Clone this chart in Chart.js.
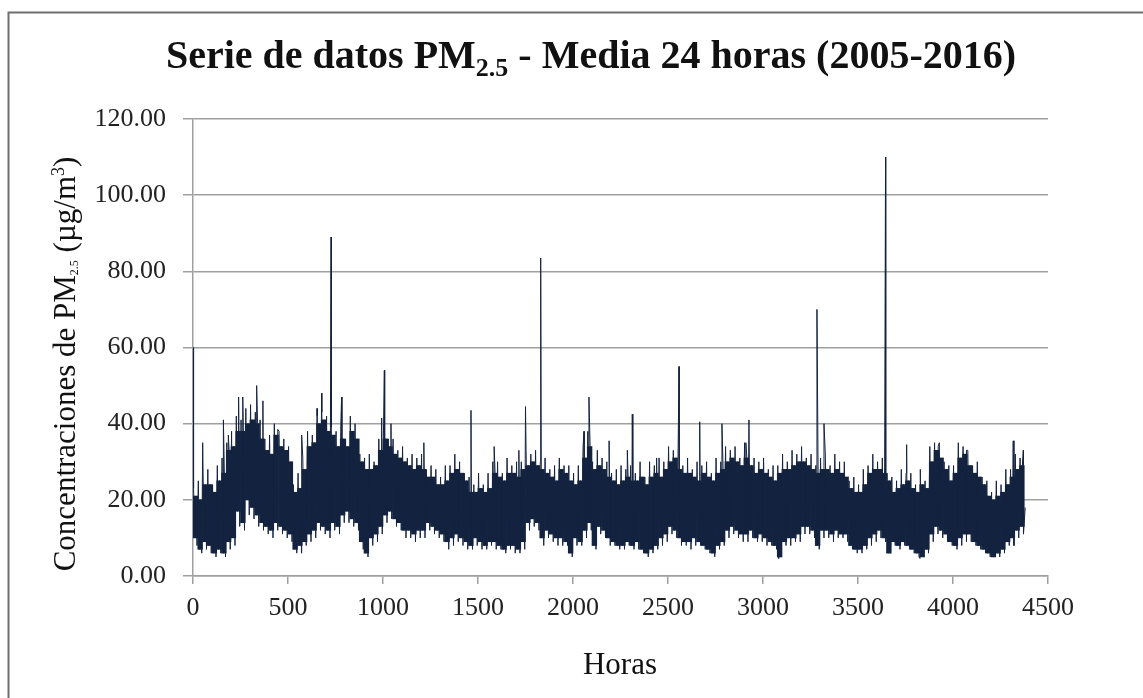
<!DOCTYPE html>
<html>
<head>
<meta charset="utf-8">
<script src="https://cdn.jsdelivr.net/npm/chart.js"></script>
<style>
  html, body { margin: 0; padding: 0; background: #fff; }
  #wrap { width: 1143px; height: 698px; }
</style>
</head>
<body>
<div id="wrap"><canvas id="pmChart" width="1143" height="698"></canvas></div>
<script>
// 24 h PM2.5 series in 25-hour bins
const binHours = 25;
// upper / lower edge of the dark core
const bandHigh = [
  21,20,24,24,22,25,27,33,34,38, 38,40,41,40,36,33,32,37,34,33,
  30,22,23,28,34,35,40,41,38,37, 34,36,34,38,36, 30,28,28,29,33,
  36,34,32,31,30,29,28,29,28,26, 26,24,24,25,27,28,27,25,22,22,
  23,22,23,27,26,25,27,27,26,28, 29,30,29,28,27,26,25,28,27,25,
  24,25,31,34,28,29,28,26,25,24, 25,26,25,25,26,24,26,27,26,28,
  30,31,28,27,27,26,25,27,26,25, 27,28,30,31,30,29,31,29,27,28,
  27,26,25,27,28,28,29,30,30,29, 28,27,28,28,27,28,27,26,23,22,
  22,24,27,28,28,27,25,22,23,24, 25,23,22,24,23,30,33,31,28,25,
  27,31,32,29,27,26,24,21,20,21, 22,24,26,28,29
];
const bandLow = [
  10,7,9,8,6,7,6,9,10,17, 14,20,18,16,14,13,12,14,13,12,
  11,7,8,9,11,12,14,13,12,14, 13,16,17,15,14, 9,6,10,11,13,
  16,17,15,14,12,12,11,12,12,14, 13,12,11,9,10,11,10,9,8,10,
  9,8,9,9,8,7,8,8,7,9, 14,15,14,10,12,11,10,10,9,6,
  10,9,12,14,8,13,12,10,9,8, 8,9,8,9,7,6,7,8,10,11,
  13,12,10,9,9,10,9,8,7,6, 8,9,12,13,12,11,11,12,10,11,
  10,9,8,5,9,10,10,11,13,13, 12,8,12,12,11,12,11,11,8,7,
  7,8,10,11,12,10,6,9,8,9, 8,7,6,5,7,11,13,12,11,9,
  8,10,11,11,9,8,7,6,5,6, 7,9,10,12,13
];
// thin strands above / below the core
const peakHigh = [
  23,25,27,28,24,29,31,35,38,42, 41,44,45,43,41,36,37,40,38,36,
  34,24,27,31,38,37,44,43,42,39, 38,40,36,42,40, 32,31,32,30,36,
  40,36,36,33,34,31,32,31,32,28, 29,28,26,29,29,32,30,27,26,24,
  27,24,27,30,30,27,31,29,30,30, 33,32,33,30,31,28,29,31,29,29,
  27,29,34,38,30,33,31,30,27,28, 29,28,29,27,30,26,30,29,31,30,
  34,33,32,29,31,28,30,29,30,27, 31,30,34,33,34,31,35,31,31,30,
  31,28,29,29,32,30,33,32,34,31, 32,29,31,32,29,32,30,30,25,26,
  24,28,29,32,30,31,27,26,25,28, 27,27,24,28,25,34,35,35,30,29,
  29,35,34,33,29,30,26,25,22,25, 24,28,28,32,31
];
const dipLow = [
  8,6,7,6,5,6,5,7,8,13, 12,16,15,13,12,11,10,12,11,10,
  9,6,6,8,9,10,12,11,10,12, 11,14,14,13,12, 7,5,8,9,11,
  14,15,13,12,10,10,9,10,10,12, 11,10,9,7,8,9,8,7,7,8,
  7,7,8,7,7,6,7,6,6,7, 12,13,12,8,10,9,8,8,8,5,
  8,8,10,12,7,11,10,8,8,7, 7,8,7,7,6,5,6,7,8,9,
  11,10,8,8,7,8,8,7,6,5, 7,8,10,11,10,9,9,10,9,9,
  8,8,7,5,8,8,9,9,11,11, 10,7,10,10,9,10,10,9,7,6,
  6,7,8,9,10,9,6,8,7,8, 7,6,5,5,6,9,11,10,9,8,
  7,8,9,9,8,7,6,5,5,5, 6,8,8,10,11
];
// isolated peaks / dips: [hour, value]
const spikes = [
  [0,60],[51,35],[160,41],[186,37],[240,47],[262,47],[335,50],[368,46],[446,38.5],
  [572,37],[654,42],[677,48],[727,89],[782,47],[993,41.5],[1007,54],[1042,40],
  [1215,35],[1463,43.5],[1585,34],[1715,33],[1750,44.5],[1830,83.5],[2058,38],
  [2084,47],[2190,35.5],[2286,33],[2312,42.5],[2440,31],[2558,55],[2667,40.5],
  [2784,40],[2910,35],[2926,41],[3081,4.6],[3284,70],[3321,40],[3645,110],
  [3756,34.5],[3826,4.6],[3922,34],[4071,33],[4317,35.5],[4370,33],[4380,18]
];
const xTicks = [0,500,1000,1500,2000,2500,3000,3500,4000,4500];
const yTicks = [0,20,40,60,80,100,120];

const series = [];
bandHigh.forEach((v, i) => {
  const h = i * binHours;
  series.push({ x: h + 3, y: peakHigh[i] });
  series.push({ x: h + 9, y: bandLow[i] });
  series.push({ x: h + 15, y: v });
  series.push({ x: h + 21, y: dipLow[i] });
});
spikes.forEach(s => series.push({ x: s[0], y: s[1] }));
series.sort((a, b) => a.x - b.x);

// the dense core of the band, one floating bar per bin
const band = bandHigh.map((v, i) => ({ x: i * binHours + binHours / 2, y: [bandLow[i], v] }));

const serif = "'Liberation Serif', 'Times New Roman', serif";
const navy = '#13233f';

// draws text made of [string, size, yShift] pieces, centred on 0
function drawPieces(ctx, pieces, weight) {
  let total = 0;
  pieces.forEach(p => {
    ctx.font = weight + ' ' + p[1] + 'px ' + serif;
    p.w = ctx.measureText(p[0]).width;
    total += p.w;
  });
  let x = -total / 2;
  pieces.forEach(p => {
    ctx.font = weight + ' ' + p[1] + 'px ' + serif;
    ctx.fillText(p[0], x, p[2]);
    x += p.w;
  });
}

const textPlugin = {
  id: 'texts',
  afterDraw(chart) {
    const ctx = chart.ctx;
    ctx.save();
    ctx.fillStyle = '#111';
    ctx.textAlign = 'left';
    ctx.textBaseline = 'alphabetic';

    // frame
    ctx.strokeStyle = '#6f6f6f';
    ctx.lineWidth = 2;
    ctx.beginPath();
    ctx.moveTo(8.5, 698);
    ctx.lineTo(8.5, 12.5);
    ctx.lineTo(1143, 12.5);
    ctx.stroke();

    // title
    ctx.save();
    ctx.translate(591, 68);
    drawPieces(ctx, [
      ['Serie de datos PM', 40, 0], ['2.5', 26, 8], [' - Media 24 horas (2005-2016)', 40, 0]
    ], 'bold');
    ctx.restore();

    // y title
    ctx.save();
    ctx.translate(75, 364);
    ctx.rotate(-Math.PI / 2);
    drawPieces(ctx, [
      ['Concentraciones de PM', 31, 0], ['2.5', 12, 3], [' (\u00b5g/m', 31, 0], ['3', 18, -11], [')', 31, 0]
    ], 'normal');
    ctx.restore();

    // x title
    ctx.save();
    ctx.translate(620, 674);
    drawPieces(ctx, [['Horas', 31, 0]], 'normal');
    ctx.restore();

    ctx.restore();
  }
};

new Chart(document.getElementById('pmChart'), {
  type: 'bar',
  data: {
    datasets: [{
      type: 'line',
      data: series,
      borderColor: navy,
      borderWidth: 1,
      pointRadius: 0,
      tension: 0,
      order: 1
    }, {
      type: 'bar',
      data: band,
      backgroundColor: navy,
      borderWidth: 0,
      barPercentage: 1,
      categoryPercentage: 1,
      order: 2
    }]
  },
  options: {
    responsive: false,
    animation: false,
    devicePixelRatio: 1,
    layout: { padding: { top: 119, right: 95, left: 0, bottom: 0 } },
    plugins: { legend: { display: false }, tooltip: { enabled: false } },
    scales: {
      x: {
        type: 'linear',
        offset: false,
        min: 0,
        max: 4500,
        afterBuildTicks: s => { s.ticks = xTicks.map(v => ({ value: v })); },
        afterFit: s => { s.height = 122; },
        grid: { offset: false, drawOnChartArea: false, drawTicks: true, tickLength: 8, color: '#a0a0a0', lineWidth: 1.5 },
        border: { display: true, color: '#a0a0a0', width: 1.5 },
        ticks: { color: '#222', font: { family: serif, size: 26 }, padding: 9, maxRotation: 0, callback: v => String(v) }
      },
      y: {
        min: 0,
        max: 120,
        afterBuildTicks: s => { s.ticks = yTicks.map(v => ({ value: v })); },
        afterFit: s => { s.width = 193; },
        grid: { color: '#a0a0a0', lineWidth: 1.5, tickLength: 10 },
        border: { display: true, color: '#a0a0a0', width: 1.5 },
        ticks: { color: '#222', font: { family: serif, size: 26 }, padding: 17, callback: v => v.toFixed(2) }
      }
    }
  },
  plugins: [textPlugin]
});
</script>
</body>
</html>
